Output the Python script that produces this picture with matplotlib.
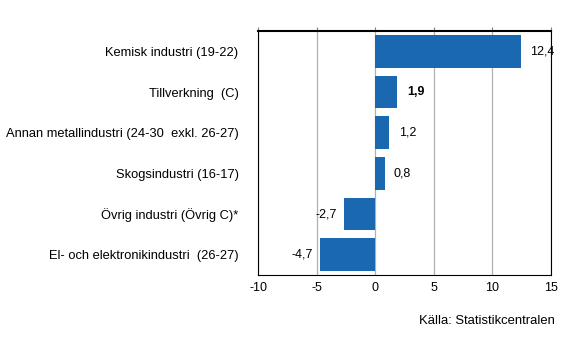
import matplotlib
matplotlib.use("Agg")
import matplotlib.pyplot as plt

# Data
categories = [
    "Kemisk industri (19-22)",
    "Tillverkning  (C)",
    "Annan metallindustri (24-30  exkl. 26-27)",
    "Skogsindustri (16-17)",
    "Övrig industri (Övrig C)*",
    "El- och elektronikindustri  (26-27)",
]
values = [12.4, 1.9, 1.2, 0.8, -2.7, -4.7]
bold_label = [False, True, False, False, False, False]
xticks = [-10, -5, 0, 5, 10, 15]

plt.rcParams['font.family'] = ['Liberation Sans', 'DejaVu Sans']

fig = plt.figure(figsize=(5.66, 3.61), dpi=100)
ax = fig.add_axes([258 / 566, 1 - 275 / 361, 293 / 566, 244 / 361])

ypos = list(range(len(categories)))
ax.barh(ypos, values, height=0.8, color='#1a69b0', zorder=3)

for y, v, b in zip(ypos, values, bold_label):
    txt = f"{v:.1f}".replace(".", ",")
    if v >= 0:
        ax.text(v + 0.8, y, txt, va='center', ha='left', fontsize=9,
                fontweight='bold' if b else 'normal')
    else:
        ax.text(v - 0.6, y, txt, va='center', ha='right', fontsize=9)

ax.set_xlim(-10, 15)
ax.set_ylim(len(categories) - 0.5, -0.5)
ax.set_xticks(xticks)
ax.set_xticklabels([str(t) for t in xticks], fontsize=9)
ax.set_yticks(ypos)
ax.set_yticklabels(categories, fontsize=9.3)
ax.tick_params(axis='y', length=0, pad=14)
ax.tick_params(axis='x', top=True, bottom=False, direction='out', length=3,
               color='#808080', pad=2)
ax.xaxis.grid(True, color='#b0b0b0', linewidth=0.9, zorder=0)
for s in ax.spines.values():
    s.set_color('black')
    s.set_linewidth(0.8)
ax.spines['top'].set_linewidth(1.5)

fig.text(555 / 566, 1 - 321 / 361, "Källa: Statistikcentralen", ha='right',
         va='center', fontsize=9.4)

fig.savefig("out.png", dpi=100)
